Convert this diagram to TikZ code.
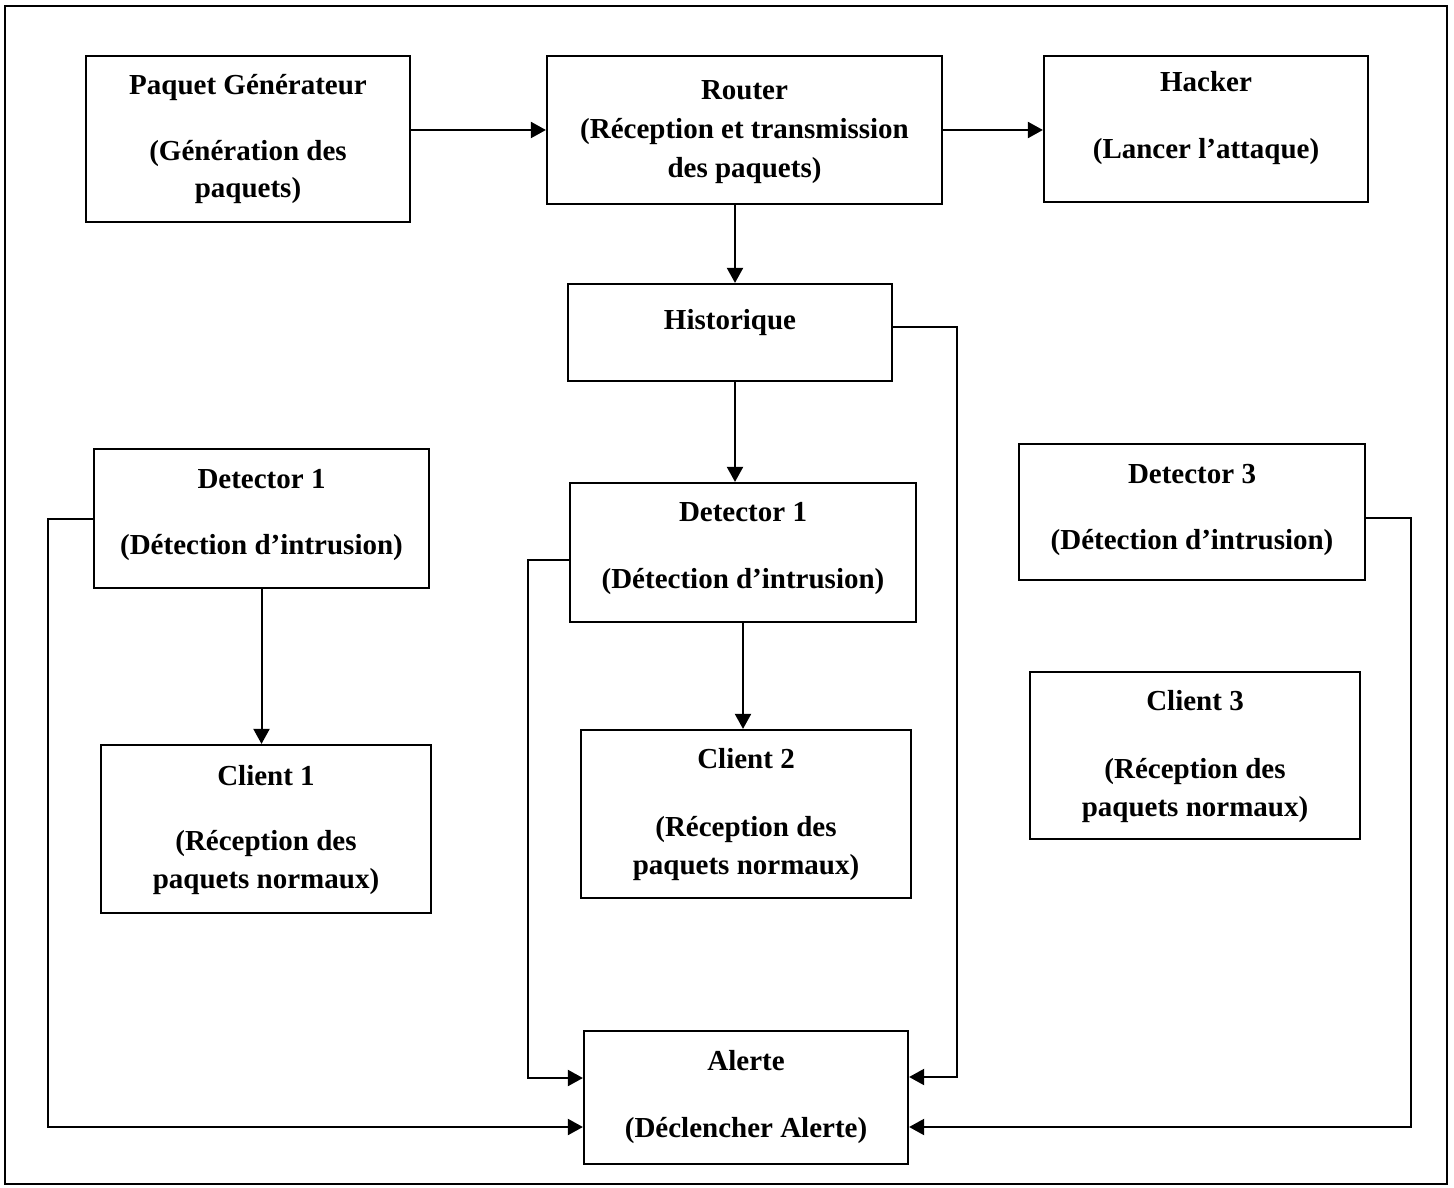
\documentclass[tikz,border=0pt]{standalone}
\usepackage{fontspec}
\setmainfont{Liberation Serif}
\usetikzlibrary{arrows.meta}
\begin{document}
\begin{tikzpicture}[x=0.5pt,y=-0.5pt,
  box/.style={draw,line width=1.1pt,rectangle,inner sep=0pt},
  lbl/.style={anchor=base,inner sep=0pt,font=\fontsize{14.5}{17}\selectfont\bfseries},
  conn/.style={line width=1pt},
  arr/.style={line width=1pt,-{Triangle[length=7.5pt,width=8pt]}}]
\useasboundingbox (0,0) rectangle (1454,1187);
\draw[line width=1pt] (5,6) rectangle (1447,1184);
% boxes
\node[box,minimum width=162pt,minimum height=83pt] (pg) at (248,139) {};
\node[box,minimum width=197.5pt,minimum height=74pt] (router) at (744.5,130) {};
\node[box,minimum width=162pt,minimum height=73pt] (hacker) at (1206,129) {};
\node[box,minimum width=162pt,minimum height=48.5pt] (hist) at (730,332.5) {};
\node[box,minimum width=167.5pt,minimum height=69.5pt] (detL) at (261.5,518.5) {};
\node[box,minimum width=173pt,minimum height=69.5pt] (detM) at (743,552.5) {};
\node[box,minimum width=173pt,minimum height=68pt] (detR) at (1192,512) {};
\node[box,minimum width=165pt,minimum height=84pt] (cl1) at (266,829) {};
\node[box,minimum width=165pt,minimum height=84pt] (cl2) at (746,814) {};
\node[box,minimum width=165pt,minimum height=83.5pt] (cl3) at (1195,755.5) {};
\node[box,minimum width=162pt,minimum height=66.5pt] (alerte) at (746,1097.5) {};
% texts
\node[lbl] (pgA) at (248,95) {Paquet Générateur};
\node[lbl] (pgB) at (248,161) {(Génération des};
\node[lbl] (pgC) at (248,198) {paquets)};
\node[lbl] (roA) at (744.5,100) {Router};
\node[lbl] (roB) at (744.5,139) {(Réception et transmission};
\node[lbl] (roC) at (744.5,178) {des paquets)};
\node[lbl] (haA) at (1206,92) {Hacker};
\node[lbl] (haB) at (1206,159) {(Lancer l’attaque)};
\node[lbl] (hiA) at (730,329) {Historique};
\node[lbl] (dlA) at (261.5,488) {Detector 1};
\node[lbl] (dlB) at (261.5,554) {(Détection d’intrusion)};
\node[lbl] (dmA) at (743,521) {Detector 1};
\node[lbl] (dmB) at (743,588) {(Détection d’intrusion)};
\node[lbl] (drA) at (1192,483) {Detector 3};
\node[lbl] (drB) at (1192,549) {(Détection d’intrusion)};
\node[lbl] (c1A) at (266,785) {Client 1};
\node[lbl] (c1B) at (266,850) {(Réception des};
\node[lbl] (c1C) at (266,888) {paquets normaux)};
\node[lbl] (c2A) at (746,768) {Client 2};
\node[lbl] (c2B) at (746,836) {(Réception des};
\node[lbl] (c2C) at (746,874) {paquets normaux)};
\node[lbl] (c3A) at (1195,710) {Client 3};
\node[lbl] (c3B) at (1195,778) {(Réception des};
\node[lbl] (c3C) at (1195,816) {paquets normaux)};
\node[lbl] (alA) at (746,1070) {Alerte};
\node[lbl] (alB) at (746,1137) {(Déclencher Alerte)};
% connectors
\draw[arr] (pg.east |- router.west) -- (router.west);
\draw[arr] (router.east) -- (hacker.west |- router.east);
\draw[arr] (router.south -| 735,0) -- (hist.north -| 735,0);
\draw[arr] (hist.south -| 735,0) -- (detM.north -| 735,0);
\draw[arr] (detL.south) -- (detL.south |- cl1.north);
\draw[arr] (detM.south) -- (detM.south |- cl2.north);
\draw[arr] (hist.east |- 0,327) -- (957,327) -- (957,1077) -- (alerte.east |- 0,1077);
\draw[arr] (detM.west |- 0,560) -- (528,560) -- (528,1078) -- (alerte.west |- 0,1078);
\draw[arr] (detL.west) -- (48,518.5) -- (48,1127) -- (alerte.west |- 0,1127);
\draw[arr] (detR.east |- 0,518) -- (1411,518) -- (1411,1127) -- (alerte.east |- 0,1127);
\end{tikzpicture}
\end{document}
